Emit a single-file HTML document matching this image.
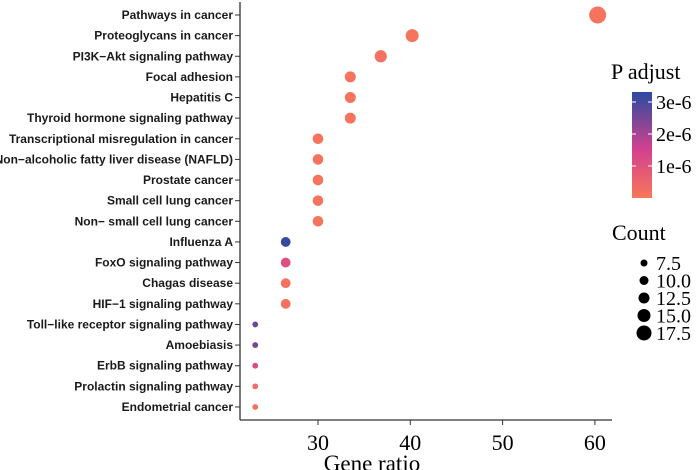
<!DOCTYPE html>
<html><head><meta charset="utf-8"><style>
body{margin:0;background:#fff;width:700px;height:470px;overflow:hidden}
svg{display:block}
.yl{font:bold 12px "Liberation Sans",sans-serif;fill:#1a1a1a}
.ser{font-family:"Liberation Serif",serif;fill:#000}
</style></head><body>
<svg id="chart" width="700" height="470">
<defs><linearGradient id="grad" x1="0" y1="1" x2="0" y2="0">
<stop offset="0" stop-color="#F8775A"/><stop offset="0.45" stop-color="#D4418E"/><stop offset="1" stop-color="#2B4BA0"/></linearGradient></defs>
<g id="plot"></g>
</svg>
<script>
const categories=["Pathways in cancer","Proteoglycans in cancer","PI3K\u2212Akt signaling pathway","Focal adhesion","Hepatitis C","Thyroid hormone signaling pathway","Transcriptional misregulation in cancer","Non\u2212alcoholic fatty liver disease (NAFLD)","Prostate cancer","Small cell lung cancer","Non\u2212 small cell lung cancer","Influenza A","FoxO signaling pathway","Chagas disease","HIF\u22121 signaling pathway","Toll\u2212like receptor signaling pathway","Amoebiasis","ErbB signaling pathway","Prolactin signaling pathway","Endometrial cancer"];
const geneRatio=[60.3,40.2,36.8,33.5,33.5,33.5,30,30,30,30,30,26.5,26.5,26.5,26.5,23.2,23.2,23.2,23.2,23.2];
const counts=[20,15,14,12.5,12.5,12.5,12,12,12,12,12,11,11,11,11,6,6,6,6,6];
const padj=[0.1e-6,0.1e-6,0.15e-6,0.1e-6,0.1e-6,0.1e-6,0.1e-6,0.1e-6,0.1e-6,0.1e-6,0.1e-6,3.2e-6,1.1e-6,0.15e-6,0.15e-6,2.6e-6,2.5e-6,1.2e-6,0.3e-6,0.2e-6];
const xTicks=[30,40,50,60];
const cTicks=[1e-6,2e-6,3e-6];
const cTickLabels=["1e-6","2e-6","3e-6"];
const sizeTicks=[7.5,10,12.5,15,17.5];
const sizeLabels=["7.5","10.0","12.5","15.0","17.5"];

const NS="http://www.w3.org/2000/svg";
const g=document.getElementById('plot');
function mk(t,a,txt){const e=document.createElementNS(NS,t);for(const k in a)e.setAttribute(k,a[k]);if(txt!=null)e.textContent=txt;g.appendChild(e);return e;}
const X=v=>318+(v-30)*9.23;
const Y=i=>15+i*20.63;
const R=c=>Math.max(2.5,0.4*c+0.5);
const cmax=3.3e-6;
function lerp(a,b,t){return a.map((v,i)=>Math.round(v+(b[i]-v)*t));}
function color(p){const t=Math.max(0,Math.min(1,p/cmax));const c0=[248,119,90],c1=[212,65,142],c2=[43,75,160];
const c=t<0.45?lerp(c0,c1,t/0.45):lerp(c1,c2,(t-0.45)/0.55);return `rgb(${c})`;}
const CY=v=>198-v/1e-6*32;

let e;
e=mk('line',{x1:240,y1:2,x2:240,y2:420,stroke:'#333','stroke-width':1.3});

e=mk('line',{x1:240,y1:420,x2:612,y2:420,stroke:'#333','stroke-width':1.3});


categories.forEach((c,i)=>{
 e=mk('line',{x1:235,y1:Y(i),x2:240,y2:Y(i),stroke:'#333'});
 
 e=mk('text',{x:233,y:Y(i)+4,'text-anchor':'end',class:'yl'},c);
 
 e=mk('circle',{cx:X(geneRatio[i]),cy:Y(i),r:R(counts[i]),fill:color(padj[i])});
 
});
xTicks.forEach(v=>{
 e=mk('line',{x1:X(v),y1:420,x2:X(v),y2:425,stroke:'#333'});
 
 e=mk('text',{x:X(v),y:450,'text-anchor':'middle',class:'ser','font-size':22},String(v));
 
});
e=mk('text',{x:372,y:471,'text-anchor':'middle',class:'ser','font-size':23},'Gene ratio');


e=mk('text',{x:611,y:79,class:'ser','font-size':22},'P adjust');

e=mk('rect',{x:632,y:92,width:20,height:106,fill:'url(#grad)'});

cTicks.forEach((v,i)=>{
 e=mk('line',{x1:632,y1:CY(v),x2:636,y2:CY(v),stroke:'#fff'});
 
 e=mk('line',{x1:648,y1:CY(v),x2:652,y2:CY(v),stroke:'#fff'});
 
 e=mk('text',{x:656,y:CY(v)+7,class:'ser','font-size':20},cTickLabels[i]);
 
});
e=mk('text',{x:612,y:240,class:'ser','font-size':22},'Count');

sizeTicks.forEach((v,i)=>{
 const y=263+i*17.5;
 e=mk('circle',{cx:644,cy:y,r:R(v),fill:'#000'});
 
 e=mk('text',{x:656,y:y+7,class:'ser','font-size':20},sizeLabels[i]);
 
});
</script>
</body></html>
